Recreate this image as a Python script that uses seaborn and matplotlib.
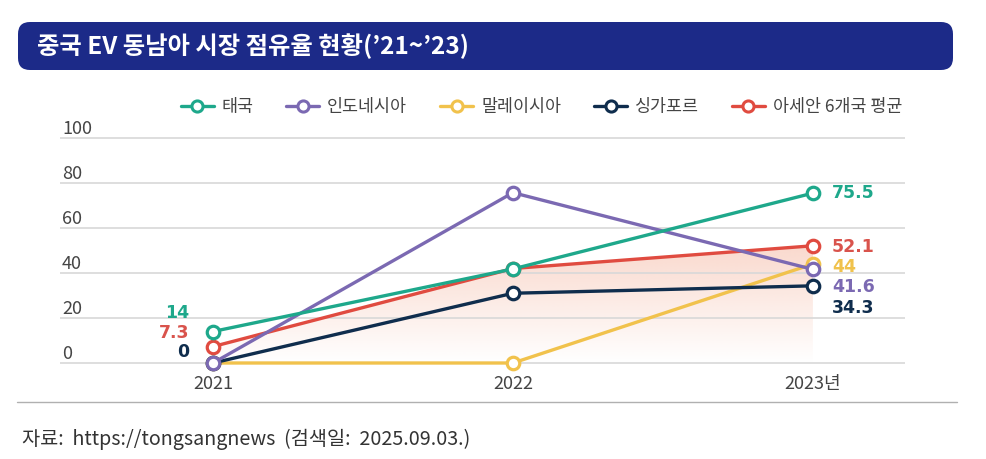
import numpy as np
import pandas as pd
import matplotlib
matplotlib.use("Agg")
import matplotlib.pyplot as plt
from matplotlib.patches import FancyBboxPatch
from matplotlib.lines import Line2D
import seaborn as sns

# ---------------- data ----------------
years = [2021, 2022, 2023]
year_labels = ["2021", "2022", "2023년"]
series_names = ["태국", "인도네시아", "말레이시아", "싱가포르", "아세안 6개국 평균"]
thailand = [14, 41.8, 75.5]
indonesia = [0, 75.7, 41.6]
malaysia = [0, 0, 44]
singapore = [0, 31, 34.3]
asean_avg = [7.3, 42, 52.1]
yticks = [0, 20, 40, 60, 80, 100]
title = "중국 EV 동남아 시장 점유율 현황(’21~’23)"
source = "자료:  https://tongsangnews  (검색일:  2025.09.03.)"

colors = {"태국": "#1ea88b", "인도네시아": "#7b69b2", "말레이시아": "#f1c24c",
          "싱가포르": "#0f2d4d", "아세안 6개국 평균": "#e04b40"}
label_colors = {"태국": "#1ea88b", "인도네시아": "#7b69b2", "말레이시아": "#f0c24c",
                "싱가포르": "#0f2d4d", "아세안 6개국 평균": "#d9534c"}

values = {"태국": thailand, "인도네시아": indonesia, "말레이시아": malaysia,
          "싱가포르": singapore, "아세안 6개국 평균": asean_avg}
df = pd.DataFrame([{"year": y, "series": s, "value": v}
                   for s in series_names for y, v in zip(years, values[s])])

sns.set_theme(style="white")
plt.rcParams["font.family"] = ["Noto Sans CJK KR", "DejaVu Sans"]

fig = plt.figure(figsize=(9.86, 4.59), dpi=100)
W, H = 986, 459
ax = fig.add_axes([60 / W, 1 - 374.25 / H, 845 / W, 247.5 / H])

# gradient fill under the ASEAN average line
poly = ax.fill_between(years, asean_avg, 0, facecolor="none", edgecolor="none")
n = 256
grad = np.zeros((n, 1, 4))
base = matplotlib.colors.to_rgb("#f2a083")
grad[:, 0, :3] = base
grad[:, 0, 3] = np.linspace(0.40, 0.0, n)
im = ax.imshow(grad, extent=[years[0], years[-1], 0, max(asean_avg)],
               aspect="auto", origin="upper", zorder=0.5, interpolation="bilinear")
im.set_clip_path(poly.get_paths()[0], transform=ax.transData)

draw_order = ["아세안 6개국 평균", "말레이시아", "싱가포르", "인도네시아", "태국"]
sns.lineplot(data=df, x="year", y="value", hue="series", hue_order=draw_order,
             palette=colors, marker="o", markersize=9, markerfacecolor="white",
             markeredgewidth=2.3, linewidth=2.4, legend=False, ax=ax,
             clip_on=False, zorder=3)
for ln in ax.lines:
    ln.set_markeredgecolor(ln.get_color())

ax.set_xlim(years[0] - 0.51, years[-1] + 0.307)
ax.set_ylim(-5, 105)
ax.set_yticks(yticks)
ax.yaxis.grid(True, color="#d8d8d8", linewidth=1.2, zorder=0)
ax.set_axisbelow(True)
ax.tick_params(axis="y", left=False, labelleft=False)
ax.set_xticks(years)
ax.set_xticklabels(year_labels, fontsize=13, color="#444444")
ax.tick_params(axis="x", length=0, pad=0.5)
ax.set_xlabel("")
ax.set_ylabel("")
for s in ax.spines.values():
    s.set_visible(False)

# y tick labels above gridlines
for v in yticks:
    ax.annotate(str(v), xy=(0, v), xycoords=("axes fraction", "data"),
                xytext=(1.5, 6.5), textcoords="offset points", ha="left",
                va="center", fontsize=13, color="#454545")

px = 0.72  # points per pixel
# left data labels (2021)
left_offsets = {"태국": 18.5, "아세안 6개국 평균": 13.6, "싱가포르": 11}
for s, dy in left_offsets.items():
    v = values[s][0]
    ax.annotate(f"{v:g}", xy=(years[0], v), xytext=(-24 * px, dy * px),
                textcoords="offset points", ha="right", va="center",
                fontsize=12.5, fontweight="bold", color=label_colors[s],
                family="DejaVu Sans")
# right data labels (2023)
right_offsets = {"태국": 0, "아세안 6개국 평균": -1, "말레이시아": -3,
                 "인도네시아": -17.6, "싱가포르": -22}
for s, dy in right_offsets.items():
    v = values[s][-1]
    ax.annotate(f"{v:g}", xy=(years[-1], v), xytext=(19 * px, dy * px),
                textcoords="offset points", ha="left", va="center",
                fontsize=12.5, fontweight="bold", color=label_colors[s],
                family="DejaVu Sans")

# legend
handles = [Line2D([0], [0], color=colors[s], lw=2.4, marker="o", mfc="white",
                  mec=colors[s], mew=2.2, ms=8) for s in series_names]
fig.legend(handles, series_names, loc="center", bbox_to_anchor=(0.549, 1 - 107 / H),
           ncol=5, frameon=False, fontsize=12.5, labelcolor="#444444",
           handlelength=1.9, handletextpad=0.45, columnspacing=1.9)

# title bar
bar = FancyBboxPatch((0.18, (H - 70) / 100), 9.35, 0.48,
                     boxstyle="round,pad=0,rounding_size=0.12",
                     transform=fig.dpi_scale_trans, facecolor="#1c2a88",
                     edgecolor="none")
fig.add_artist(bar)
fig.text(37 / W, 1 - 46 / H, title, color="white", fontsize=17.5,
         fontweight="bold", va="center", ha="left")

# separator
fig.add_artist(Line2D([17 / W, 957 / W], [1 - 402 / H, 1 - 402 / H],
                      transform=fig.transFigure, color="#b0b0b0", lw=1))
fig.text(22 / W, 1 - 439 / H, source, fontsize=14.2, color="#333333",
         va="center", ha="left")

fig.savefig("out.png", dpi=100)
